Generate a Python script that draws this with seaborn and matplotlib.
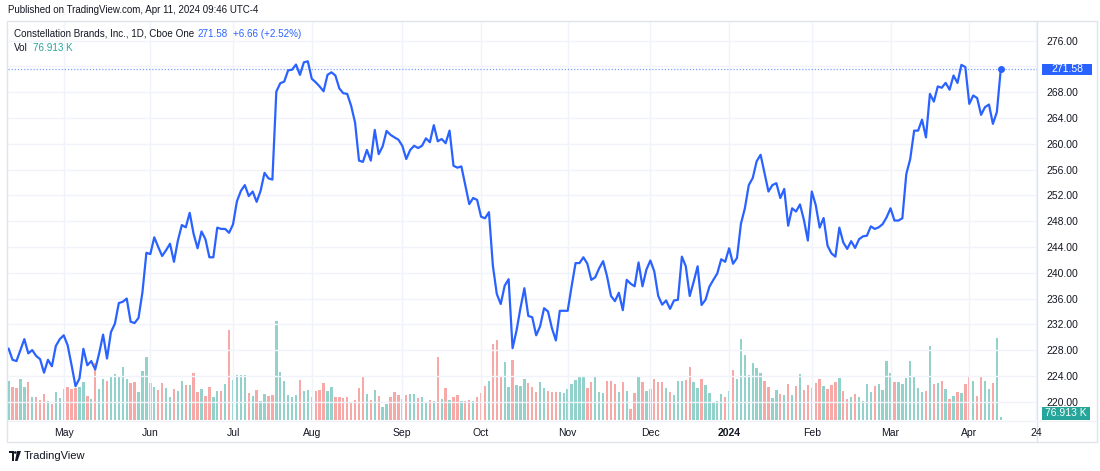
import numpy as np
import pandas as pd
import seaborn as sns
import matplotlib.pyplot as plt
import matplotlib.transforms as mtransforms
from matplotlib.patches import Rectangle, Ellipse, Polygon
from matplotlib.lines import Line2D

# daily closes, Cboe One, 2023-04-11 .. 2024-04-11
close = [228.24, 226.5, 226.3, 228.0, 229.7, 227.5, 228.0, 227.1, 226.6, 224.5,
         226.5, 225.5, 228.65, 229.7, 230.3, 228.75, 225.65, 222.4, 223.6, 228.2,
         225.65, 226.3, 225.0, 227.5, 230.4, 226.7, 230.8, 232.1, 235.3, 235.5,
         236.0, 232.4, 232.2, 233.0, 237.0, 243.1, 242.9, 245.5, 244.0, 242.6,
         243.5, 244.5, 241.7, 245.0, 247.4, 247.05, 249.3, 246.0, 243.8, 246.4,
         245.2, 242.4, 242.4, 247.0, 246.8, 246.8, 246.2, 247.5, 251.1, 252.7,
         253.6, 251.9, 252.6, 251.0, 252.7, 255.5, 254.65, 254.45, 268.1, 269.4,
         269.65, 271.4, 271.5, 272.3, 270.7, 272.65, 272.8, 270.1, 269.55, 268.9,
         268.15, 270.7, 271.1, 270.6, 268.6, 267.85, 267.75, 265.9, 263.3, 257.4,
         257.2, 259.05, 257.4, 262.15, 258.4, 259.6, 262.0, 261.4, 261.0, 260.65,
         259.7, 257.65, 259.05, 259.7, 259.35, 259.7, 260.85, 260.25, 262.9, 260.4,
         260.75, 260.1, 262.05, 256.6, 256.3, 256.5, 253.6, 250.65, 251.6, 251.3,
         248.7, 248.45, 249.4, 241.1, 236.7, 235.15, 238.0, 239.0, 228.3, 231.0,
         234.5, 237.6, 233.3, 233.1, 230.3, 231.7, 234.5, 234.0, 231.4, 229.5,
         234.1, 234.1, 234.1, 237.9, 241.5, 241.5, 242.4, 241.4, 238.9, 239.3,
         240.7, 241.8, 239.45, 236.4, 235.6, 236.9, 234.2, 238.9, 238.3, 237.9,
         241.6, 237.9, 240.5, 241.9, 240.2, 236.4, 235.05, 235.7, 234.4, 235.7,
         235.8, 242.5, 241.0, 236.4, 238.6, 241.0, 235.0, 235.8, 237.85, 238.9,
         239.9, 242.1, 241.7, 243.8, 241.4, 242.3, 247.6, 250.0, 253.6, 254.7,
         257.3, 258.3, 255.45, 252.6, 253.6, 253.9, 251.6, 253.0, 247.3, 250.0,
         249.5, 250.6, 248.2, 245.0, 252.6, 250.5, 247.0, 248.5, 244.2, 243.0,
         242.5, 247.0, 244.7, 243.7, 244.9, 243.85, 245.2, 245.65, 245.75, 247.2,
         246.8, 247.05, 247.55, 248.6, 250.0, 248.1, 248.1, 248.45, 255.3, 257.65,
         262.05, 262.05, 263.75, 261.0, 267.75, 266.55, 268.9, 268.7, 269.45, 268.4,
         270.6, 269.45, 272.25, 271.9, 266.2, 267.5, 267.1, 264.5, 265.7, 266.1,
         263.1, 264.92, 271.58]

# volume in thousands of shares
volume = [975, 825, 800, 1025, 825, 950, 575, 575, 500, 650,
          475, 400, 700, 550, 775, 825, 775, 800, 825, 950,
          600, 525, 1425, 775, 1025, 975, 1075, 1150, 1075, 1325,
          1025, 925, 950, 700, 1225, 1575, 925, 825, 750, 925,
          800, 575, 775, 725, 975, 875, 875, 1175, 700, 775,
          600, 825, 575, 725, 725, 900, 2250, 1000, 1125, 1125,
          1125, 675, 600, 750, 475, 650, 600, 625, 2475, 1200,
          975, 625, 575, 625, 1000, 725, 750, 575, 725, 750,
          925, 725, 825, 575, 575, 550, 575, 425, 500, 800,
          1075, 650, 500, 750, 600, 325, 400, 575, 700, 625,
          525, 625, 650, 650, 550, 575, 450, 500, 475, 1575,
          525, 800, 500, 575, 625, 475, 475, 500, 475, 575,
          675, 850, 975, 1900, 2000, 1075, 1450, 825, 1500, 875,
          850, 1025, 925, 825, 700, 950, 800, 725, 700, 700,
          700, 675, 775, 900, 1000, 1100, 1075, 800, 950, 1075,
          700, 675, 975, 975, 900, 700, 950, 725, 275, 675,
          1075, 950, 725, 775, 1025, 950, 950, 800, 700, 625,
          975, 975, 1000, 1325, 950, 800, 1025, 875, 675, 450,
          475, 650, 575, 725, 1250, 1025, 2025, 1625, 1125, 1425,
          1300, 1175, 975, 825, 550, 750, 650, 625, 900, 625,
          850, 1150, 750, 875, 800, 925, 1025, 850, 775, 875,
          950, 1050, 725, 525, 575, 650, 575, 475, 900, 700,
          850, 900, 750, 1475, 1175, 950, 950, 900, 1050, 1475,
          1100, 800, 700, 725, 1850, 900, 925, 975, 775, 525,
          600, 700, 675, 900, 1100, 975, 600, 1075, 975, 775,
          925, 2050, 76.913]

holidays = ['2023-05-29', '2023-06-19', '2023-07-04', '2023-09-04', '2023-11-23',
            '2023-12-25', '2024-01-01', '2024-01-15', '2024-02-19', '2024-03-29']
tick_dates = ['2023-05-01', '2023-06-01', '2023-07-03', '2023-08-01', '2023-09-01',
              '2023-10-02', '2023-11-01', '2023-12-01', '2024-01-02', '2024-02-01',
              '2024-03-01', '2024-04-01', '2024-04-24']
tick_labels = ['May', 'Jun', 'Jul', 'Aug', 'Sep', 'Oct', 'Nov', 'Dec', '2024',
               'Feb', 'Mar', 'Apr', '24']
price_ticks = [220, 224, 228, 232, 236, 240, 244, 248, 252, 256, 260, 264, 268, 272, 276]

BLUE = '#2962ff'
TEAL = '#26a69a'
TXT = '#131722'

# trading-day axis (bar index), extended into the future for the last label
days = pd.bdate_range('2023-04-11', '2024-04-24')
days = days[~days.isin(pd.to_datetime(holidays))]
tick_pos = [days.get_loc(pd.Timestamp(d)) for d in tick_dates]

df = pd.DataFrame({'i': np.arange(len(close)), 'close': close, 'volume': volume})
df['up'] = df['close'].diff().fillna(1) >= 0

sns.set_theme(style='white')
plt.rcParams['font.family'] = ['Liberation Sans', 'DejaVu Sans']

W, H = 1100, 471
def fx(x):
    return x / W
def fy(y):
    return 1 - y / H

fig = plt.figure(figsize=(11, 4.71), dpi=100)
ax = fig.add_axes([fx(8), fy(420), fx(1037) - fx(8), fy(22) - fy(420)])

# volume pane underneath
axv = ax.twinx()
axv.bar(df['i'], df['volume'], width=0.6,
        color=np.where(df['up'], '#92d2cb', '#f7a9a7'), linewidth=0)
axv.set_ylim(0, 9950)
axv.axis('off')

sns.lineplot(data=df, x='i', y='close', ax=ax, color=BLUE, lw=1.6)
ax.set_zorder(3)
axv.set_zorder(2)
ax.patch.set_visible(False)

last = close[-1]
ax.set_xlim(-0.15, 261.2)
ax.set_ylim(217.16, 278.9)
ax.set_xlabel('')
ax.set_ylabel('')
ax.yaxis.tick_right()
ax.set_yticks(price_ticks)
# the last-price tag hides the scale label next to it
ax.set_yticklabels(['' if abs(t - last) < 2 else f'{t:.2f}' for t in price_ticks])
ax.set_xticks(tick_pos)
ax.set_xticklabels(tick_labels)
ax.tick_params(axis='y', length=0, pad=7, labelsize=7.5, labelcolor=TXT)
ax.tick_params(axis='x', length=0, pad=5.5, labelsize=7.5, labelcolor=TXT)
for lab in ax.get_xticklabels():
    if lab.get_text() == '2024':
        lab.set_fontweight('bold')
ax.grid(True, color='#f0f3fa', lw=1)
for s in ax.spines.values():
    s.set_visible(False)

# last price: dotted line, dot and axis label
ax.axhline(last, color=BLUE, lw=0.9, ls=(0, (1, 1.5)), alpha=0.6)
ax.scatter([df['i'].iloc[-1]], [last], s=16, color=BLUE, zorder=5)
trans = mtransforms.blended_transform_factory(ax.transAxes, ax.transData)
ax.add_patch(Rectangle((1.0049, last - 0.853), 0.0486, 1.706, transform=trans,
                       clip_on=False, fc=BLUE, ec='none', zorder=10))
ax.text(1.0049 + 0.0243, last, f'{last:.2f}', transform=trans, ha='center', va='center',
        color='white', fontsize=7.5, clip_on=False, zorder=11)

# volume label on the axis
fig.patches.append(Rectangle((fx(1042), fy(420)), fx(1090) - fx(1042), fy(407) - fy(420),
                             transform=fig.transFigure, fc=TEAL, ec='none', zorder=5))
fig.text(fx(1066), fy(413.5), f'{volume[-1]:.3f} K', ha='center', va='center',
         color='white', fontsize=7.5, zorder=6)

# chart frame and separators (kept under the axes texts)
fig.patches.append(Rectangle((fx(7), fy(442)), fx(1097) - fx(7), fy(21) - fy(442),
                             transform=fig.transFigure, fill=False, ec='#e0e3eb', lw=1,
                             zorder=0))
fig.lines.append(Line2D([fx(1037), fx(1037)], [fy(21), fy(442)],
                        transform=fig.transFigure, color='#e0e3eb', lw=1, zorder=0))
fig.lines.append(Line2D([fx(7), fx(1097)], [fy(421), fy(421)],
                        transform=fig.transFigure, color='#f0f3fa', lw=1, zorder=0))

# header and legend
fig.text(fx(8), fy(10), 'Published on TradingView.com, Apr 11, 2024 09:46 UTC-4',
         fontsize=7, va='center', color=TXT)
t1 = fig.text(fx(14), fy(37), 'Constellation Brands, Inc., 1D, Cboe One',
              fontsize=7.1, va='baseline', color=TXT)
t2 = ax.annotate(f'{last:.2f}', xy=(1, 0), xycoords=t1, xytext=(2.5, 0),
                 textcoords='offset points', va='bottom', fontsize=7.1, color=BLUE)
t3 = ax.annotate('+6.66 (+2.52%)', xy=(1, 0), xycoords=t2, xytext=(4, 0),
                 textcoords='offset points', va='bottom', fontsize=7.1, color=BLUE)
t4 = fig.text(fx(14), fy(51), 'Vol', fontsize=7.1, va='baseline', color=TXT)
ax.annotate(f'{volume[-1]:.3f} K', xy=(1, 0), xycoords=t4, xytext=(4, 0),
            textcoords='offset points', va='bottom', fontsize=7.1, color=TEAL)

# TradingView mark
for p in [Rectangle((fx(9), fy(453)), fx(14) - fx(9), fy(451) - fy(453)),
          Rectangle((fx(12), fy(461)), fx(14) - fx(12), fy(451) - fy(461)),
          Polygon([(fx(17), fy(451)), (fx(21), fy(451)), (fx(17.5), fy(461)), (fx(15), fy(461))])]:
    p.set_transform(fig.transFigure)
    p.set_facecolor(TXT)
    p.set_edgecolor('none')
    fig.patches.append(p)
fig.patches.append(Ellipse((fx(15.3), fy(452.5)), 2.6 / W, 2.6 / H,
                           transform=fig.transFigure, fc=TXT, ec='none'))
fig.text(fx(24), fy(456), 'TradingView', fontsize=8, va='center', color=TXT)

fig.savefig('out.png', dpi=100, facecolor='white')
